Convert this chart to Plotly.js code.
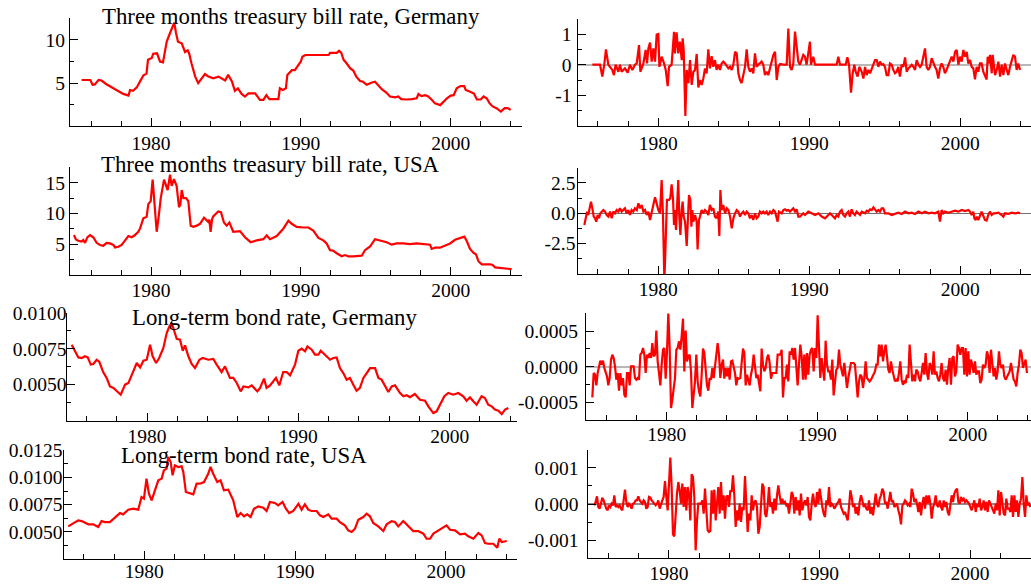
<!DOCTYPE html>
<html>
<head>
<meta charset="utf-8">
<script src="https://cdn.plot.ly/plotly-3.0.1.min.js"></script>
<style>html,body{margin:0;padding:0;background:#fff;}#chart{width:1031px;height:585px;}</style>
</head>
<body>
<div id="chart"></div>
<script>
// ---------------- DATA ----------------
const panelTitles = ["Three months treasury bill rate, Germany", "Three months treasury bill rate, USA", "Long-term bond rate, Germany", "Long-term bond rate, USA"];
const xMajorTicks = [1980, 1990, 2000];
const xMajorLabels = ["1980", "1990", "2000"];
const xMinorTicks = [1976, 1978, 1982, 1984, 1986, 1988, 1992, 1994, 1996, 1998, 2002, 2004];

// [year, value]
const deBillLevel = [[1975.37,5.36],[1975.95,5.36],[1976.1,4.8],[1976.25,4.85],[1976.5,5.36],[1976.7,5.3],[1977.0,4.9],[1977.5,4.4],[1977.8,4.0],[1978.15,3.75],[1978.5,3.55],[1978.6,4.2],[1978.8,4.1],[1979.05,4.5],[1979.27,5.2],[1979.5,5.9],[1979.7,6.1],[1979.8,7.7],[1980.05,7.9],[1980.15,8.4],[1980.4,8.45],[1980.5,8.0],[1980.6,7.5],[1980.8,7.4],[1980.9,8.4],[1981.05,9.8],[1981.27,10.8],[1981.45,11.5],[1981.55,12.0],[1981.67,10.8],[1981.8,9.8],[1982.05,9.6],[1982.27,8.6],[1982.45,8.8],[1982.55,8.4],[1982.7,7.3],[1982.95,5.75],[1983.15,5.0],[1983.4,5.55],[1983.6,6.05],[1983.8,5.8],[1984.15,5.55],[1984.5,5.75],[1984.8,5.4],[1984.95,5.3],[1985.15,5.95],[1985.4,5.2],[1985.6,4.1],[1985.8,4.4],[1986.05,3.75],[1986.27,3.45],[1986.5,3.8],[1986.95,3.8],[1987.27,3.05],[1987.5,3.05],[1987.7,3.6],[1987.9,3.15],[1988.5,3.15],[1988.6,4.4],[1988.8,4.2],[1989.0,4.4],[1989.1,5.95],[1989.4,6.5],[1989.6,6.5],[1989.85,7.1],[1990.0,7.5],[1990.1,8.05],[1990.3,8.25],[1991.85,8.25],[1991.95,8.5],[1992.4,8.5],[1992.55,8.75],[1992.7,8.5],[1992.85,7.7],[1993.05,7.3],[1993.3,6.7],[1993.5,6.45],[1993.7,5.75],[1993.95,5.25],[1994.15,5.15],[1994.4,4.8],[1994.7,5.05],[1994.95,5.15],[1995.15,4.8],[1995.4,4.3],[1995.7,3.9],[1995.95,3.45],[1996.3,3.35],[1996.5,3.45],[1996.7,3.15],[1997.05,3.1],[1997.4,3.15],[1997.73,3.25],[1997.85,3.75],[1998.05,3.5],[1998.3,3.6],[1998.5,3.45],[1998.75,3.05],[1998.95,2.65],[1999.3,2.45],[1999.5,2.85],[1999.75,3.25],[2000.0,3.55],[2000.2,3.6],[2000.4,4.4],[2000.65,4.65],[2000.9,4.65],[2001.0,4.2],[2001.3,4.0],[2001.55,3.8],[2001.75,3.1],[2002.0,3.1],[2002.2,3.45],[2002.4,3.25],[2002.6,2.65],[2002.8,2.3],[2003.05,2.1],[2003.35,1.7],[2003.6,2.1],[2003.8,2.1],[2004.0,1.9]];

const deBillDiff = [[1975.63,0],[1976.14,0],[1976.29,-0.39],[1976.42,0],[1976.53,0.5],[1976.69,0],[1976.95,-0.17],[1977.06,-0.34],[1977.17,0],[1977.35,-0.23],[1977.46,0],[1977.57,-0.23],[1977.79,-0.12],[1977.97,-0.26],[1978.12,0],[1978.28,-0.17],[1978.45,0],[1978.57,0.04],[1978.72,0.64],[1978.81,-0.23],[1979.01,0.04],[1979.16,0.48],[1979.25,0.04],[1979.34,0.53],[1979.45,0.72],[1979.56,0.1],[1979.67,0.53],[1979.78,0.1],[1979.89,0.98],[1980.0,1.0],[1980.07,-0.07],[1980.22,0.26],[1980.38,0.04],[1980.49,-0.17],[1980.62,-0.7],[1980.71,-0.07],[1980.88,0],[1981.04,1.07],[1981.1,0.37],[1981.21,1.05],[1981.32,0.37],[1981.43,0.75],[1981.55,0.15],[1981.61,0.86],[1981.68,0.48],[1981.79,-1.67],[1981.88,-0.17],[1981.99,-0.6],[1982.1,0.15],[1982.21,-0.66],[1982.32,-0.23],[1982.43,-0.17],[1982.54,0.35],[1982.65,-0.74],[1982.76,-0.5],[1982.87,-0.66],[1982.98,-0.45],[1983.09,-0.12],[1983.2,-0.28],[1983.31,0.5],[1983.42,-0.12],[1983.53,0.28],[1983.64,-0.07],[1983.75,0.15],[1983.86,-0.17],[1983.97,0],[1984.08,-0.17],[1984.19,0.04],[1984.3,0.1],[1984.42,0.04],[1984.64,-0.12],[1984.75,-0.07],[1984.86,-0.17],[1984.97,0],[1985.08,0.42],[1985.19,0.37],[1985.3,-0.28],[1985.41,-0.5],[1985.52,-0.6],[1985.63,-0.28],[1985.74,-0.07],[1985.85,0.5],[1985.96,-0.07],[1986.07,-0.23],[1986.18,-0.12],[1986.29,-0.28],[1986.4,0.37],[1986.51,-0.07],[1986.62,0],[1986.84,0.1],[1986.95,0],[1987.06,-0.34],[1987.17,-0.23],[1987.28,-0.34],[1987.4,-0.07],[1987.51,0.1],[1987.62,0.32],[1987.73,0.42],[1987.84,-0.5],[1987.95,-0.07],[1988.06,0.02],[1988.28,0],[1988.5,0],[1988.61,1.18],[1988.72,-0.07],[1988.83,-0.17],[1988.94,0.04],[1989.05,1.08],[1989.16,0.59],[1989.27,0.1],[1989.38,0],[1989.49,0.15],[1989.6,0.32],[1989.71,0.26],[1989.82,0],[1989.93,0.37],[1990.04,0.75],[1990.11,0],[1990.26,0.26],[1990.38,0],[1991.81,0],[1991.92,0.26],[1992.03,0],[1992.41,0],[1992.52,0.24],[1992.63,0],[1992.76,-0.91],[1992.87,-0.28],[1992.98,0],[1993.07,-0.23],[1993.2,-0.39],[1993.31,-0.07],[1993.47,-0.23],[1993.58,-0.45],[1993.69,-0.07],[1993.8,-0.34],[1993.91,-0.17],[1994.02,-0.28],[1994.13,-0.12],[1994.24,0],[1994.35,0.15],[1994.46,0.15],[1994.57,-0.07],[1994.68,0.1],[1994.79,0],[1994.9,0.02],[1995.01,-0.07],[1995.12,-0.34],[1995.23,-0.34],[1995.34,0.04],[1995.45,0],[1995.56,-0.17],[1995.67,-0.28],[1995.78,-0.23],[1995.89,-0.07],[1996.0,-0.39],[1996.11,0],[1996.23,-0.07],[1996.34,0.24],[1996.45,-0.23],[1996.56,-0.12],[1996.67,-0.07],[1996.78,0],[1996.89,-0.07],[1997.0,-0.17],[1997.11,0.15],[1997.22,0],[1997.33,-0.07],[1997.44,0],[1997.66,0.53],[1997.77,-0.07],[1997.88,-0.17],[1997.99,-0.07],[1998.1,0.21],[1998.21,0.04],[1998.32,-0.07],[1998.43,-0.17],[1998.54,-0.45],[1998.65,-0.12],[1998.76,0.04],[1998.87,-0.07],[1998.98,-0.28],[1999.09,-0.17],[1999.21,0],[1999.32,0.15],[1999.43,0.26],[1999.54,0.1],[1999.65,0.42],[1999.76,0.48],[1999.87,0],[1999.98,0.26],[2000.09,0.1],[2000.2,0.48],[2000.31,0.26],[2000.42,0.42],[2000.53,0.04],[2000.64,0.15],[2000.75,-0.07],[2000.86,-0.12],[2000.97,-0.48],[2001.08,-0.07],[2001.19,-0.23],[2001.3,0.04],[2001.41,0.04],[2001.52,-0.23],[2001.63,-0.34],[2001.74,-0.48],[2001.81,0.26],[2001.9,0.04],[2001.97,0.32],[2002.08,-0.28],[2002.14,0.32],[2002.23,-0.07],[2002.3,-0.34],[2002.41,-0.17],[2002.52,0.1],[2002.63,-0.39],[2002.74,0],[2002.85,-0.34],[2002.96,0.04],[2003.07,-0.17],[2003.18,-0.34],[2003.29,-0.07],[2003.4,0.15],[2003.51,0.32],[2003.62,0.26],[2003.73,-0.17],[2003.84,0.04],[2003.95,-0.17]];

const usBillLevel = [[1974.86,6.47],[1974.99,5.76],[1975.15,5.54],[1975.37,5.4],[1975.48,5.65],[1975.6,5.2],[1975.75,6.1],[1975.93,6.47],[1976.15,6.1],[1976.37,5.2],[1976.6,4.85],[1976.82,4.73],[1977.04,5.2],[1977.26,5.1],[1977.49,4.85],[1977.6,4.45],[1977.82,4.55],[1978.04,4.85],[1978.26,5.55],[1978.49,6.3],[1978.71,6.1],[1978.93,6.47],[1979.15,7.0],[1979.27,7.55],[1979.49,9.2],[1979.71,9.45],[1979.82,11.5],[1979.98,12.0],[1980.11,15.5],[1980.27,10.5],[1980.38,7.0],[1980.49,9.0],[1980.65,12.5],[1980.87,15.5],[1980.98,14.8],[1981.11,13.8],[1981.27,16.3],[1981.38,14.5],[1981.53,15.6],[1981.71,14.5],[1981.87,11.0],[1981.96,11.5],[1982.05,13.8],[1982.16,12.5],[1982.34,12.5],[1982.49,12.0],[1982.65,8.0],[1982.83,7.8],[1983.05,8.0],[1983.27,8.3],[1983.54,9.3],[1983.83,8.6],[1983.89,9.0],[1983.98,7.0],[1984.07,9.0],[1984.15,9.5],[1984.49,10.3],[1984.67,10.2],[1984.87,8.5],[1985.05,8.0],[1985.23,8.5],[1985.49,7.0],[1985.94,7.1],[1986.27,6.1],[1986.65,5.3],[1987.05,5.6],[1987.5,5.8],[1987.72,6.4],[1987.94,5.8],[1988.39,6.3],[1988.83,7.5],[1989.17,8.8],[1989.39,8.3],[1989.72,7.8],[1990.17,7.7],[1990.5,7.7],[1990.83,7.2],[1991.17,6.0],[1991.5,5.6],[1991.72,5.1],[1991.95,4.0],[1992.17,3.9],[1992.39,3.5],[1992.73,3.0],[1992.95,3.2],[1993.17,3.0],[1993.5,3.0],[1993.84,3.1],[1994.06,3.1],[1994.28,4.0],[1994.62,4.6],[1994.95,5.8],[1995.28,5.6],[1995.73,5.3],[1996.06,4.9],[1996.4,5.1],[1996.84,5.1],[1997.29,5.0],[1997.73,5.1],[1998.18,5.0],[1998.62,4.9],[1998.73,4.2],[1998.95,4.4],[1999.29,4.4],[1999.62,4.7],[1999.96,5.1],[2000.29,5.7],[2000.62,5.9],[2000.91,6.2],[2001.07,5.5],[2001.29,4.2],[2001.51,3.6],[2001.69,3.3],[2001.85,2.2],[2002.07,1.7],[2002.63,1.7],[2002.8,1.6],[2002.96,1.2],[2003.29,1.1],[2003.63,0.95],[2004.07,0.9]];

const usBillDiff = [[1975.1,-0.96],[1975.19,-0.27],[1975.28,0.14],[1975.36,-0.14],[1975.45,0.41],[1975.54,0.96],[1975.63,0.41],[1975.72,-0.27],[1975.81,-0.41],[1975.89,-0.69],[1975.98,-0.14],[1976.07,-0.41],[1976.16,0],[1976.25,0.14],[1976.36,0.27],[1976.47,0.14],[1976.58,-0.14],[1976.69,-0.27],[1976.8,0.14],[1976.91,-0.41],[1977.02,0.14],[1977.13,0],[1977.24,0.27],[1977.35,0.14],[1977.46,0.41],[1977.57,0.14],[1977.68,0.27],[1977.79,0.41],[1977.9,0],[1978.01,0.27],[1978.12,-0.14],[1978.23,0.27],[1978.34,0.14],[1978.45,0.41],[1978.57,0.27],[1978.68,0.82],[1978.79,0.41],[1978.9,0.69],[1979.01,0.14],[1979.12,0.27],[1979.23,-0.14],[1979.34,0.14],[1979.45,-0.55],[1979.56,0.14],[1979.67,0.55],[1979.78,1.32],[1979.89,0.82],[1980.0,0.27],[1980.11,0],[1980.22,2.75],[1980.31,-0.27],[1980.4,-5.6],[1980.49,-2.2],[1980.57,1.1],[1980.71,1.1],[1980.79,1.24],[1980.88,2.39],[1980.97,1.24],[1981.04,-0.96],[1981.1,0.27],[1981.17,-1.37],[1981.24,0.27],[1981.32,2.75],[1981.39,-0.27],[1981.46,-1.79],[1981.55,0.27],[1981.61,0.96],[1981.68,-0.27],[1981.77,-0.69],[1981.88,-2.69],[1981.94,-0.27],[1982.03,1.51],[1982.12,1.1],[1982.19,-1.1],[1982.25,0.27],[1982.32,-0.69],[1982.43,-0.14],[1982.54,-0.69],[1982.6,-2.97],[1982.69,-0.55],[1982.76,-0.27],[1982.87,0.27],[1982.98,0],[1983.09,0.27],[1983.2,0.14],[1983.31,-0.14],[1983.42,0.69],[1983.53,0.27],[1983.64,0.41],[1983.75,-0.27],[1983.86,-0.41],[1983.97,0.14],[1984.04,-1.87],[1984.11,1.92],[1984.19,0.27],[1984.3,0.69],[1984.42,0],[1984.53,0.41],[1984.64,0.27],[1984.75,-0.27],[1984.86,-1.24],[1984.97,-0.41],[1985.08,0],[1985.19,0.27],[1985.3,0.14],[1985.41,-0.27],[1985.52,0],[1985.63,0.14],[1985.74,-0.14],[1985.85,0.14],[1985.96,0],[1986.07,-0.41],[1986.18,-0.14],[1986.29,-0.55],[1986.4,0],[1986.51,-0.41],[1986.62,-0.27],[1986.73,0.14],[1986.84,0],[1986.95,0.14],[1987.06,0],[1987.17,0.14],[1987.28,-0.14],[1987.4,0.14],[1987.51,0],[1987.62,0.27],[1987.73,0.14],[1987.84,-0.41],[1987.9,-0.69],[1987.99,0.14],[1988.17,0],[1988.28,0.27],[1988.39,0.33],[1988.5,0.22],[1988.61,0.27],[1988.72,0.14],[1988.83,0.27],[1988.94,0.41],[1989.05,0.14],[1989.16,0.33],[1989.27,-0.27],[1989.38,-0.27],[1989.49,-0.14],[1989.6,0],[1989.71,-0.14],[1989.93,0.14],[1990.15,0],[1990.38,-0.14],[1990.6,0],[1990.82,-0.27],[1991.04,-0.41],[1991.15,-0.27],[1991.37,0],[1991.48,-0.14],[1991.59,-0.27],[1991.7,-0.41],[1991.81,-0.14],[1991.92,-0.27],[1992.03,0.14],[1992.14,0.27],[1992.25,-0.14],[1992.36,-0.27],[1992.47,0],[1992.58,0.14],[1992.69,-0.27],[1992.8,0.33],[1992.91,0],[1993.02,-0.14],[1993.13,0.14],[1993.25,0],[1993.36,-0.14],[1993.47,0.14],[1993.69,0],[1993.8,0.22],[1993.91,0.14],[1994.02,0.33],[1994.13,0.27],[1994.24,0.49],[1994.35,0.27],[1994.46,0.14],[1994.57,0.27],[1994.68,0.14],[1994.79,0.41],[1994.9,0.41],[1995.01,0],[1995.23,0],[1995.45,-0.14],[1995.67,-0.05],[1995.89,0.05],[1996.11,-0.05],[1996.34,0.14],[1996.56,0],[1996.78,0.05],[1997.0,-0.05],[1997.22,0.14],[1997.44,0],[1997.66,0.14],[1997.88,0],[1998.1,0.05],[1998.32,0],[1998.54,0.14],[1998.65,-0.69],[1998.76,0.27],[1998.87,0],[1998.98,0.14],[1999.21,0.05],[1999.43,0.14],[1999.65,0.22],[1999.87,0.14],[2000.09,0.27],[2000.31,0.19],[2000.53,0.27],[2000.64,0.14],[2000.75,-0.14],[2000.86,0.14],[2000.93,-0.41],[2001.02,-0.55],[2001.1,-0.27],[2001.19,-0.55],[2001.3,-0.27],[2001.41,0.14],[2001.63,-0.55],[2001.74,-0.6],[2001.85,-0.14],[2001.96,0.14],[2002.08,-0.14],[2002.19,0],[2002.3,0],[2002.52,0.05],[2002.74,-0.14],[2002.85,-0.27],[2002.96,0],[2003.18,-0.05],[2003.4,0.05],[2003.62,0],[2003.84,0.05],[2003.95,0]];

const deBondLevel = [[1975.02,7.79e-3],[1975.24,7.33e-3],[1975.46,6.9e-3],[1975.68,6.86e-3],[1975.9,6.98e-3],[1976.08,6.9e-3],[1976.28,6.4e-3],[1976.45,6.44e-3],[1976.67,6.74e-3],[1976.85,6.58e-3],[1977.1,5.88e-3],[1977.33,5.47e-3],[1977.55,4.88e-3],[1977.78,4.77e-3],[1978.1,4.47e-3],[1978.26,4.3e-3],[1978.55,5.0e-3],[1978.77,5.12e-3],[1979.0,5.7e-3],[1979.32,6.51e-3],[1979.54,6.2e-3],[1979.76,6.67e-3],[1979.98,6.74e-3],[1980.2,7.79e-3],[1980.37,6.98e-3],[1980.6,6.51e-3],[1980.8,6.86e-3],[1981.08,7.56e-3],[1981.3,8.6e-3],[1981.48,9.07e-3],[1981.63,9.3e-3],[1981.78,8.84e-3],[1981.96,8.2e-3],[1982.18,8.14e-3],[1982.36,7.37e-3],[1982.51,7.74e-3],[1982.73,6.98e-3],[1982.95,6.44e-3],[1983.17,6.16e-3],[1983.46,6.74e-3],[1983.68,6.86e-3],[1984.05,6.74e-3],[1984.38,6.79e-3],[1984.6,6.4e-3],[1984.93,5.88e-3],[1985.15,6.28e-3],[1985.48,5.47e-3],[1985.7,5.47e-3],[1985.93,5.12e-3],[1986.19,4.53e-3],[1986.37,4.88e-3],[1986.7,4.81e-3],[1986.92,4.95e-3],[1987.29,4.53e-3],[1987.47,4.77e-3],[1987.73,5.42e-3],[1987.9,4.77e-3],[1988.13,4.95e-3],[1988.52,5.47e-3],[1988.74,4.95e-3],[1989.0,5.88e-3],[1989.23,5.88e-3],[1989.45,5.65e-3],[1989.78,6.4e-3],[1990.0,7.37e-3],[1990.22,7.51e-3],[1990.44,7.33e-3],[1990.6,7.67e-3],[1990.88,7.44e-3],[1991.1,7.09e-3],[1991.32,7.09e-3],[1991.48,7.37e-3],[1991.76,7.09e-3],[1992.1,6.74e-3],[1992.31,6.86e-3],[1992.53,6.9e-3],[1992.75,6.16e-3],[1992.97,5.81e-3],[1993.19,5.35e-3],[1993.41,5.47e-3],[1993.63,5.0e-3],[1993.85,4.58e-3],[1994.07,4.77e-3],[1994.3,5.47e-3],[1994.52,5.81e-3],[1994.74,6.16e-3],[1995.07,6.16e-3],[1995.29,5.47e-3],[1995.5,5.35e-3],[1995.7,4.95e-3],[1995.95,4.49e-3],[1996.17,4.88e-3],[1996.39,4.95e-3],[1996.72,4.42e-3],[1996.94,4.19e-3],[1997.16,4.26e-3],[1997.38,4.12e-3],[1997.7,4.35e-3],[1998.04,3.95e-3],[1998.37,3.88e-3],[1998.59,3.49e-3],[1998.92,3.02e-3],[1999.14,3.14e-3],[1999.36,3.6e-3],[1999.65,4.19e-3],[1999.91,4.42e-3],[2000.24,4.3e-3],[2000.57,4.42e-3],[2000.9,4.19e-3],[2001.12,3.88e-3],[2001.34,4.12e-3],[2001.56,3.84e-3],[2001.78,3.6e-3],[2002.11,4.19e-3],[2002.33,4.07e-3],[2002.55,3.6e-3],[2002.77,3.49e-3],[2002.99,3.26e-3],[2003.22,3.19e-3],[2003.44,2.95e-3],[2003.66,3.26e-3],[2003.88,3.37e-3]];

const usBondLevel = [[1974.96,5.49e-3],[1975.18,5.68e-3],[1975.4,5.8e-3],[1975.62,6.05e-3],[1975.85,5.98e-3],[1976.07,5.8e-3],[1976.29,5.68e-3],[1976.62,5.68e-3],[1976.95,5.43e-3],[1977.17,5.98e-3],[1977.39,5.89e-3],[1977.72,5.89e-3],[1978.06,6.35e-3],[1978.39,6.72e-3],[1978.6,6.6e-3],[1978.94,7.03e-3],[1979.27,7.12e-3],[1979.6,7.03e-3],[1979.82,8.2e-3],[1979.98,8.05e-3],[1980.15,9.89e-3],[1980.31,8.51e-3],[1980.49,7.89e-3],[1980.71,8.82e-3],[1980.93,9.74e-3],[1981.15,9.89e-3],[1981.3,10.66e-3],[1981.48,10.82e-3],[1981.59,11.89e-3],[1981.75,11.43e-3],[1981.88,10.2e-3],[1982.03,11.12e-3],[1982.25,10.97e-3],[1982.48,11.03e-3],[1982.59,10.5e-3],[1982.76,8.66e-3],[1983.03,8.51e-3],[1983.25,8.45e-3],[1983.47,9.43e-3],[1983.69,9.43e-3],[1983.96,9.58e-3],[1984.24,10.35e-3],[1984.4,10.97e-3],[1984.57,10.35e-3],[1984.84,9.58e-3],[1985.06,9.74e-3],[1985.28,8.82e-3],[1985.57,8.88e-3],[1985.9,7.89e-3],[1986.17,6.35e-3],[1986.39,6.72e-3],[1986.61,6.42e-3],[1986.83,6.6e-3],[1987.05,6.35e-3],[1987.27,7.12e-3],[1987.56,7.34e-3],[1987.89,7.22e-3],[1988.11,6.91e-3],[1988.33,7.74e-3],[1988.66,7.65e-3],[1988.88,7.43e-3],[1989.17,7.74e-3],[1989.39,7.12e-3],[1989.61,6.72e-3],[1989.88,6.91e-3],[1990.22,7.58e-3],[1990.43,7.03e-3],[1990.65,7.52e-3],[1990.87,7.03e-3],[1991.09,6.91e-3],[1991.43,6.91e-3],[1991.65,6.51e-3],[1991.87,6.35e-3],[1992.2,6.6e-3],[1992.42,6.2e-3],[1992.75,6.2e-3],[1992.97,5.89e-3],[1993.3,5.58e-3],[1993.52,5.12e-3],[1993.75,4.97e-3],[1993.97,5.28e-3],[1994.19,6.11e-3],[1994.52,6.35e-3],[1994.74,6.66e-3],[1994.96,6.42e-3],[1995.18,5.8e-3],[1995.51,5.49e-3],[1995.85,5.06e-3],[1996.07,5.68e-3],[1996.4,5.98e-3],[1996.62,5.89e-3],[1996.84,5.49e-3],[1997.17,5.98e-3],[1997.5,5.49e-3],[1997.83,5.06e-3],[1998.16,5.06e-3],[1998.5,4.82e-3],[1998.72,4.35e-3],[1998.94,4.35e-3],[1999.17,4.82e-3],[1999.5,5.12e-3],[1999.83,5.43e-3],[2000.04,5.58e-3],[2000.27,5.18e-3],[2000.6,5.12e-3],[2000.93,4.75e-3],[2001.26,4.82e-3],[2001.48,4.57e-3],[2001.82,4.35e-3],[2002.15,4.88e-3],[2002.37,4.66e-3],[2002.59,3.95e-3],[2002.8,3.89e-3],[2003.14,3.89e-3],[2003.4,3.52e-3],[2003.54,4.35e-3],[2003.7,4.05e-3],[2004.03,4.14e-3]];

// bond-rate differences, read at a fixed spacing of sampleStep years from the first reading
const sampleStep = 0.08859;
const deBondDiffStart = 1975.061;
const deBondDiff = [-4.32e-4,-0.89e-4,-1.13e-4,-2.63e-4,-0.89e-4,-0.19e-4,0.85e-4,0.28e-4,0.85e-4,-0.19e-4,-0.89e-4,-1.36e-4,-2.63e-4,-1.6e-4,0.99e-4,1.69e-4,1.22e-4,0.05e-4,-1.83e-4,-0.89e-4,-3.38e-4,-0.89e-4,-2.63e-4,-1.6e-4,-3.94e-4,-4.32e-4,-0.89e-4,-0.89e-4,-2.63e-4,0.05e-4,0.05e-4,0.05e-4,-1.6e-4,-1.83e-4,-1.6e-4,-1.83e-4,1.69e-4,1.92e-4,2.63e-4,1.69e-4,-0.89e-4,1.69e-4,1.22e-4,1.92e-4,1.22e-4,3.33e-4,1.46e-4,1.69e-4,5.07e-4,0.75e-4,-0.89e-4,-2.63e-4,0.28e-4,2.39e-4,2.63e-4,-1.69e-4,2.16e-4,7.56e-4,2.63e-4,-5.82e-4,-4.65e-4,-3.0e-4,-1.6e-4,2.39e-4,2.63e-4,3.57e-4,2.39e-4,4.27e-4,6.76e-4,-0.66e-4,5.07e-4,0.75e-4,1.46e-4,1.69e-4,-0.66e-4,-5.82e-4,-3.94e-4,-2.07e-4,1.69e-4,-2.07e-4,-3.47e-4,-4.18e-4,-1.13e-4,2.54e-4,1.92e-4,-1.13e-4,-2.63e-4,-3.38e-4,-1.6e-4,-1.83e-4,-0.19e-4,-1.6e-4,0.05e-4,1.92e-4,3.33e-4,1.69e-4,-1.6e-4,0.28e-4,0.99e-4,-1.69e-4,-0.19e-4,-1.36e-4,-0.19e-4,-1.83e-4,0.75e-4,0.85e-4,0.05e-4,-0.89e-4,-2.63e-4,-1.6e-4,-1.69e-4,-1.6e-4,0.52e-4,2.54e-4,1.92e-4,-2.63e-4,-1.13e-4,-1.83e-4,-2.63e-4,-1.13e-4,-0.19e-4,1.69e-4,0.28e-4,-1.6e-4,-1.13e-4,-2.3e-4,-3.47e-4,2.54e-4,0.28e-4,-0.66e-4,-0.19e-4,1.22e-4,1.69e-4,0.52e-4,-1.69e-4,-0.89e-4,-0.89e-4,-0.89e-4,-0.89e-4,1.69e-4,1.69e-4,1.69e-4,2.39e-4,-4.32e-4,-1.6e-4,-1.6e-4,0.28e-4,-2.07e-4,2.16e-4,1.69e-4,2.63e-4,0.99e-4,2.63e-4,-0.66e-4,-2.63e-4,0.28e-4,3.1e-4,1.46e-4,-1.83e-4,1.69e-4,-1.83e-4,1.92e-4,-1.13e-4,1.69e-4,2.39e-4,2.63e-4,-0.66e-4,2.63e-4,1.22e-4,7.23e-4,2.63e-4,-1.6e-4,1.22e-4,-0.42e-4,-1.97e-4,3.66e-4,0.28e-4,-0.66e-4,-0.66e-4,-1.83e-4,0.99e-4,-4.04e-4,-1.6e-4,-0.42e-4,-0.19e-4,2.39e-4,0.28e-4,-0.66e-4,-1.36e-4,0.52e-4,-0.89e-4,-3.0e-4,-1.6e-4,-0.19e-4,0.52e-4,0.52e-4,0.52e-4,0.28e-4,-1.6e-4,-4.32e-4,-2.07e-4,-1.13e-4,-1.36e-4,-3.0e-4,-1.6e-4,0.75e-4,-1.6e-4,-1.83e-4,-2.07e-4,-1.83e-4,-1.36e-4,-1.13e-4,-0.66e-4,0.28e-4,0.28e-4,3.1e-4,1.46e-4,3.1e-4,0.75e-4,2.16e-4,3.1e-4,1.46e-4,-0.42e-4,-0.89e-4,0.75e-4,-0.42e-4,-1.13e-4,-2.07e-4,-1.83e-4,-2.07e-4,-0.89e-4,0.75e-4,-1.83e-4,-2.54e-4,-2.07e-4,-2.3e-4,-1.13e-4,-1.6e-4,3.1e-4,0.52e-4,-2.07e-4,-1.13e-4,-2.07e-4,-0.42e-4,-0.66e-4,-1.6e-4,-2.07e-4,-0.89e-4,0.52e-4,-1.13e-4,1.92e-4,-0.89e-4,-1.83e-4,0.52e-4,0.05e-4,-1.13e-4,2.16e-4,-1.13e-4,-0.66e-4,-1.6e-4,-2.07e-4,-1.13e-4,0.52e-4,-1.6e-4,-2.07e-4,-0.42e-4,-2.54e-4,-0.19e-4,1.22e-4,-2.54e-4,1.22e-4,1.46e-4,-1.36e-4,-0.66e-4,3.1e-4,2.63e-4,1.69e-4,2.63e-4,2.63e-4,-1.13e-4,2.63e-4,-1.36e-4,2.16e-4,-1.13e-4,0.99e-4,0.28e-4,-0.89e-4,0.75e-4,-1.13e-4,-0.66e-4,-0.66e-4,-2.3e-4,-1.83e-4,0.28e-4,-0.19e-4,0.28e-4,2.16e-4,1.46e-4,-0.89e-4,2.39e-4,0.52e-4,-1.36e-4,-0.19e-4,-1.83e-4,-0.66e-4,2.16e-4,0.28e-4,-0.19e-4,0.28e-4,-1.36e-4,-1.83e-4,-1.36e-4,-1.13e-4,-0.66e-4,0.52e-4,-0.89e-4,-1.83e-4,-2.07e-4,-2.77e-4,-0.89e-4,0.28e-4,2.39e-4,1.92e-4,-0.19e-4,0.28e-4,0.99e-4,-0.89e-4];

const usBondDiffStart = 1975.039;
const usBondDiff = [-0.37e-4,0.55e-4,2.12e-4,-0.83e-4,-1.29e-4,0.55e-4,1.75e-4,1.01e-4,-0.37e-4,-1.29e-4,-1.75e-4,-0.37e-4,-0.83e-4,0.09e-4,-0.37e-4,2.4e-4,-0.83e-4,-0.37e-4,-0.83e-4,-0.37e-4,-1.29e-4,-1.75e-4,1.01e-4,3.96e-4,0.55e-4,-0.83e-4,0.09e-4,-0.37e-4,-1.29e-4,0.09e-4,0.28e-4,1.01e-4,1.01e-4,2.12e-4,1.01e-4,0.55e-4,0.09e-4,1.01e-4,0.55e-4,-1.29e-4,-0.83e-4,1.94e-4,1.75e-4,1.01e-4,0.55e-4,0.09e-4,-0.37e-4,0.09e-4,1.01e-4,-1.29e-4,0.09e-4,1.01e-4,1.94e-4,6.36e-4,1.94e-4,-1.75e-4,5.62e-4,12.81e-4,4.7e-4,-8.39e-4,-8.94e-4,-1.75e-4,2.86e-4,6.08e-4,3.78e-4,0.09e-4,5.62e-4,-0.83e-4,4.7e-4,-1.75e-4,4.7e-4,2.86e-4,-4.52e-4,8.2e-4,7.47e-4,1.94e-4,-12.81e-4,-4.52e-4,0.09e-4,0.09e-4,0.09e-4,1.01e-4,-2.67e-4,4.24e-4,-1.75e-4,-7.28e-4,-7.74e-4,-7.47e-4,3.78e-4,-2.67e-4,3.96e-4,-4.52e-4,0.09e-4,4.7e-4,-2.67e-4,6.08e-4,-1.75e-4,2.4e-4,-4.06e-4,1.94e-4,2.4e-4,-0.83e-4,3.78e-4,3.32e-4,7.93e-4,2.4e-4,-6.36e-4,-1.75e-4,-4.52e-4,0.09e-4,-4.98e-4,-0.83e-4,-1.75e-4,7.74e-4,0.09e-4,-7.74e-4,-2.67e-4,-4.52e-4,2.4e-4,-1.75e-4,0.55e-4,1.01e-4,-0.83e-4,-8.2e-4,-6.36e-4,-0.83e-4,5.62e-4,4.7e-4,-2.67e-4,-3.59e-4,-0.37e-4,4.7e-4,-0.83e-4,0.55e-4,-2.67e-4,1.47e-4,-1.75e-4,2.4e-4,5.16e-4,2.4e-4,0.09e-4,1.47e-4,0.09e-4,0.55e-4,-0.37e-4,0.09e-4,-2.67e-4,0.09e-4,3.32e-4,2.4e-4,-2.67e-4,1.94e-4,-1.75e-4,1.01e-4,-3.13e-4,2.86e-4,-1.75e-4,0.09e-4,1.01e-4,-0.37e-4,1.94e-4,-3.59e-4,-4.52e-4,0.09e-4,2.86e-4,0.09e-4,-0.83e-4,3.32e-4,0.09e-4,4.24e-4,1.01e-4,-0.83e-4,-2.67e-4,-3.59e-4,1.01e-4,-0.37e-4,4.7e-4,-0.83e-4,0.09e-4,-0.37e-4,-1.29e-4,-0.37e-4,0.09e-4,0.55e-4,1.47e-4,-0.83e-4,-1.75e-4,-2.67e-4,-2.21e-4,-3.59e-4,-4.52e-4,-0.83e-4,3.78e-4,1.94e-4,-0.83e-4,0.09e-4,-2.67e-4,-0.83e-4,-3.13e-4,0.55e-4,2.4e-4,1.01e-4,-0.83e-4,0.09e-4,-1.29e-4,-1.75e-4,1.01e-4,-2.67e-4,-0.83e-4,-3.13e-4,0.55e-4,2.86e-4,0.09e-4,-0.83e-4,1.47e-4,2.4e-4,4.24e-4,3.32e-4,0.09e-4,0.55e-4,-1.29e-4,1.47e-4,3.32e-4,0.55e-4,1.01e-4,-0.83e-4,-0.37e-4,0.09e-4,-1.75e-4,-3.13e-4,-5.62e-4,-0.37e-4,0.09e-4,1.01e-4,0.55e-4,-0.37e-4,0.09e-4,-0.83e-4,4.24e-4,2.86e-4,0.55e-4,1.47e-4,0.09e-4,-2.21e-4,0.55e-4,-3.13e-4,0.09e-4,1.94e-4,-1.29e-4,2.4e-4,0.09e-4,2.4e-4,0.09e-4,-4.06e-4,-0.83e-4,0.09e-4,2.4e-4,-0.37e-4,-0.83e-4,1.01e-4,-0.83e-4,-1.75e-4,1.01e-4,-0.83e-4,0.55e-4,-2.21e-4,-3.13e-4,-0.83e-4,2.4e-4,0.55e-4,2.86e-4,3.78e-4,4.24e-4,0.55e-4,0.09e-4,1.94e-4,1.01e-4,1.47e-4,0.55e-4,1.01e-4,0.55e-4,0.09e-4,-0.83e-4,-1.75e-4,-0.37e-4,1.01e-4,-2.21e-4,0.09e-4,-0.83e-4,1.47e-4,-1.75e-4,-0.83e-4,1.01e-4,-1.75e-4,0.55e-4,-2.21e-4,1.01e-4,0.09e-4,-1.29e-4,-2.21e-4,-2.67e-4,0.09e-4,-1.75e-4,3.78e-4,-3.13e-4,3.32e-4,0.09e-4,-2.67e-4,-3.13e-4,1.47e-4,-1.29e-4,-1.29e-4,-2.21e-4,2.4e-4,-3.59e-4,2.4e-4,-2.21e-4,1.01e-4,-3.59e-4,0.09e-4,1.47e-4,7.47e-4,0.09e-4,-3.59e-4,2.4e-4,-0.37e-4,0.09e-4,-0.83e-4];

// y-axis tick values and labels per panel
const yTicks = {
  deBillLevel: {vals: [5, 10], text: ["5", "10"], minor: [2.5, 7.5, 12.5]},
  deBillDiff: {vals: [-1, 0, 1], text: ["-1", "0", "1"], minor: [-1.5, -0.5, 0.5, 1.5]},
  usBillLevel: {vals: [5, 10, 15], text: ["5", "10", "15"], minor: [2.5, 7.5, 12.5, 17.5]},
  usBillDiff: {vals: [-2.5, 0, 2.5], text: ["-2.5", "0.0", "2.5"], minor: [-3.75, -1.25, 1.25, 3.75]},
  deBondLevel: {vals: [0.005, 0.0075, 0.01], text: ["0.0050", "0.0075", "0.0100"], minor: [0.00375, 0.00625, 0.00875]},
  deBondDiff: {vals: [-0.0005, 0, 0.0005], text: ["-0.0005", "0.0000", "0.0005"], minor: [-0.00075, -0.00025, 0.00025, 0.00075]},
  usBondLevel: {vals: [0.005, 0.0075, 0.01, 0.0125], text: ["0.0050", "0.0075", "0.0100", "0.0125"], minor: [0.00375, 0.00625, 0.00875, 0.01125]},
  usBondDiff: {vals: [-0.001, 0, 0.001], text: ["-0.001", "0.000", "0.001"], minor: [-0.0015, -0.0005, 0.0005, 0.0015]}
};

// ---------------- LAYOUT ----------------
const W = 1031, H = 585;
const FONT = "'Liberation Serif', 'Times New Roman', serif";

function sampleTimes(start, n) {
  return Array.from({length: n}, (_, i) => +(start + i * sampleStep).toFixed(4));
}
const series = {
  deBillLevel: {x: deBillLevel.map(p => p[0]), y: deBillLevel.map(p => p[1])},
  deBillDiff: {x: deBillDiff.map(p => p[0]), y: deBillDiff.map(p => p[1])},
  usBillLevel: {x: usBillLevel.map(p => p[0]), y: usBillLevel.map(p => p[1])},
  usBillDiff: {x: usBillDiff.map(p => p[0]), y: usBillDiff.map(p => p[1])},
  deBondLevel: {x: deBondLevel.map(p => p[0]), y: deBondLevel.map(p => p[1])},
  deBondDiff: {x: sampleTimes(deBondDiffStart, deBondDiff.length), y: deBondDiff},
  usBondLevel: {x: usBondLevel.map(p => p[0]), y: usBondLevel.map(p => p[1])},
  usBondDiff: {x: sampleTimes(usBondDiffStart, usBondDiff.length), y: usBondDiff}
};

// panel boxes in pixels: [left, right], [top, bottom]; ys/xs = tick label standoffs
const panels = [
  {key: 'deBillLevel', px: [70, 522], py: [18.3, 126.3], xr: [1974.595, 2004.758], yr: [0, 12.5], zero: null, ys: 0, xs: -1},
  {key: 'deBillDiff', px: [578.3, 1031], py: [18.65, 126.1], xr: [1974.70, 2004.68], yr: [-2, 1.5], zero: {c: '#b8b8b8', w: 2}, ys: 2, xs: -1},
  {key: 'usBillLevel', px: [70, 522], py: [167.4, 274.7], xr: [1974.595, 2004.758], yr: [0, 17.5], zero: null, ys: 0, xs: -2},
  {key: 'usBillDiff', px: [578.3, 1031], py: [167.8, 274.0], xr: [1974.70, 2004.68], yr: [-5, 3.75], zero: {c: '#707070', w: 1}, ys: -2, xs: -2},
  {key: 'deBondLevel', px: [67.3, 517], py: [313.0, 420.5], xr: [1974.73, 2004.45], yr: [0.0025, 0.0100], zero: null, ys: -4, xs: -2},
  {key: 'deBondDiff', px: [586, 1031], py: [313.4, 419.95], xr: [1974.64, 2004.21], yr: [-0.00075, 0.00075], zero: {c: '#b8b8b8', w: 2}, ys: 3, xs: -3},
  {key: 'usBondLevel', px: [64.3, 517], py: [450.4, 558.8], xr: [1974.70, 2004.71], yr: [0.0025, 0.0125], zero: null, ys: -3, xs: -5},
  {key: 'usBondDiff', px: [588.3, 1031], py: [449.75, 558.25], xr: [1974.64, 2004.05], yr: [-0.0015, 0.0015], zero: {c: '#8c8c8c', w: 1.2}, ys: 5, xs: -3}
];

const titlePos = [[100, 16.7], [98.7, 164.5], [130.3, 317.2], [118.7, 455.3]];

const traces = [];
const layout = {
  width: W, height: H,
  margin: {l: 0, r: 0, t: 0, b: 0, pad: 0},
  paper_bgcolor: '#ffffff', plot_bgcolor: '#ffffff',
  showlegend: false,
  font: {family: FONT, size: 19, color: '#000'},
  annotations: []
};

panels.forEach((p, i) => {
  const n = i + 1;
  const xa = 'xaxis' + (n === 1 ? '' : n), ya = 'yaxis' + (n === 1 ? '' : n);
  const xref = 'x' + (n === 1 ? '' : n), yref = 'y' + (n === 1 ? '' : n);
  const s = series[p.key], t = yTicks[p.key];
  traces.push({
    type: 'scatter', mode: 'lines', x: s.x, y: s.y, xaxis: xref, yaxis: yref,
    line: {color: '#ff0000', width: 2.2}, hoverinfo: 'skip'
  });
  layout[xa] = {
    domain: [p.px[0] / W, Math.min(1, p.px[1] / W)], range: p.xr, anchor: yref,
    showline: true, linecolor: '#000', linewidth: 1, showgrid: false, zeroline: false,
    ticks: 'inside', ticklen: 8, tickwidth: 1, tickcolor: '#000',
    tickmode: 'array', tickvals: xMajorTicks, ticktext: xMajorLabels,
    minor: {tickmode: 'array', tickvals: xMinorTicks, ticks: 'inside', ticklen: 5, tickwidth: 1, tickcolor: '#000', showgrid: false},
    tickfont: {family: FONT, size: 19.5, color: '#000'}, ticklabelstandoff: p.xs, fixedrange: true
  };
  layout[ya] = {
    domain: [1 - p.py[1] / H, 1 - p.py[0] / H], range: p.yr, anchor: xref,
    showline: true, linecolor: '#000', linewidth: 1, showgrid: false,
    zeroline: !!p.zero, zerolinecolor: p.zero ? p.zero.c : '#000', zerolinewidth: p.zero ? p.zero.w : 1,
    ticks: 'inside', ticklen: 8, tickwidth: 1, tickcolor: '#000',
    tickmode: 'array', tickvals: t.vals, ticktext: t.text,
    minor: {tickmode: 'array', tickvals: t.minor, ticks: 'inside', ticklen: 4, tickwidth: 1, tickcolor: '#000', showgrid: false},
    tickfont: {family: FONT, size: 19.5, color: '#000'}, ticklabelstandoff: p.ys, fixedrange: true
  };
});

panelTitles.forEach((txt, i) => {
  layout.annotations.push({
    text: txt, xref: 'paper', yref: 'paper',
    x: titlePos[i][0] / W, y: 1 - titlePos[i][1] / H,
    xanchor: 'left', yanchor: 'middle', showarrow: false,
    font: {family: FONT, size: 22.8, color: '#000'}
  });
});

Plotly.newPlot('chart', traces, layout, {staticPlot: true, displayModeBar: false});
</script>
</body>
</html>
